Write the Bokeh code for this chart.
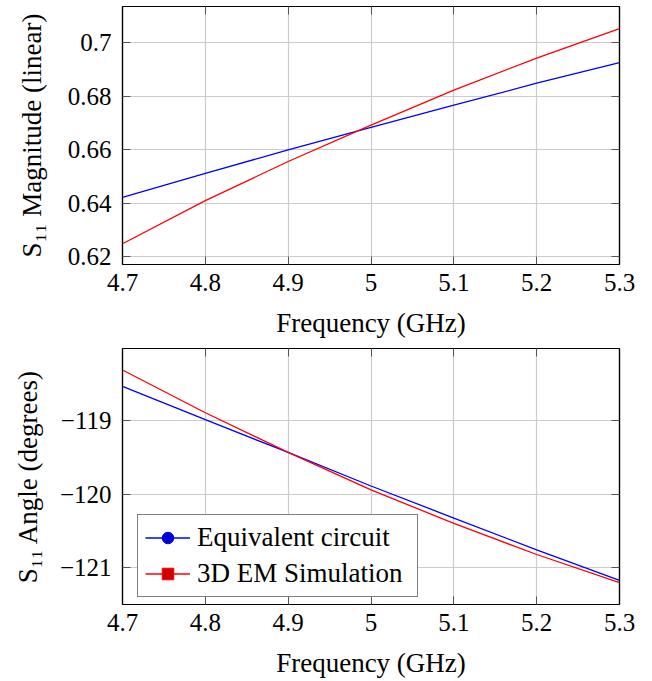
from bokeh.plotting import figure
from bokeh.models import (Range1d, FixedTicker, LinearAxis, Legend, LegendItem,
                          CustomJSTickFormatter)
from bokeh.layouts import column
from bokeh.embed import file_html
from bokeh.resources import INLINE

# ---------------- data ----------------
freq = [4.7, 4.8, 4.9, 5.0, 5.1, 5.2, 5.3]
mag_circuit = [0.6422, 0.6512, 0.6599, 0.6683, 0.6766, 0.6848, 0.6925]
mag_em = [0.6249, 0.6410, 0.6556, 0.6692, 0.6822, 0.6942, 0.7052]
ang_circuit = [-118.532, -118.986, -119.432, -119.888, -120.324, -120.757, -121.171]
ang_em = [-118.311, -118.892, -119.432, -119.942, -120.396, -120.820, -121.203]

x_ticks = [4.7, 4.8, 4.9, 5.0, 5.1, 5.2, 5.3]
x_tick_labels = ["4.7", "4.8", "4.9", "5", "5.1", "5.2", "5.3"]
mag_ticks = [0.62, 0.64, 0.66, 0.68, 0.70]
mag_tick_labels = ["0.62", "0.64", "0.66", "0.68", "0.7"]
ang_ticks = [-121, -120, -119]
ang_tick_labels = ["\u2212121", "\u2212120", "\u2212119"]

x_label = "Frequency (GHz)"
mag_label = "S\u2081\u2081 Magnitude (linear)"
ang_label = "S\u2081\u2081 Angle (degrees)"
series_names = ["Equivalent circuit", "3D EM Simulation"]

FONT = "Liberation Serif"
BLUE, RED = "#0000ff", "#ff0000"
BLUE_M, RED_M = "#0000cc", "#cc0000"

LABEL_CODE = """
const i = tvals.findIndex(t => Math.abs(t - tick) < 1e-6);
return i < 0 ? "" : tlabels[i];
"""


def style_axis(ax, ticks, labels, standoff=None):
    ax.ticker = FixedTicker(ticks=ticks)
    ax.minor_tick_line_color = None
    ax.major_tick_in = 8
    ax.major_tick_out = 0
    ax.major_tick_line_color = "#555555"
    ax.major_tick_line_width = 1
    ax.axis_line_color = "black"
    ax.axis_line_width = 1.2
    ax.major_label_text_font = FONT
    ax.major_label_text_color = "black"
    ax.major_label_text_font_size = "25px"
    if standoff is not None:
        ax.formatter = CustomJSTickFormatter(args=dict(tvals=list(ticks), tlabels=list(labels)),
                                             code=LABEL_CODE)
        ax.major_label_standoff = standoff
    else:
        ax.formatter = CustomJSTickFormatter(code="return '';")
        ax.major_label_standoff = 0


def make_fig(height, y0, y1, yticks, ylabels, ylab, top_border, bottom_border, ylab_standoff):
    p = figure(width=644, height=height, output_backend="svg", toolbar_location=None,
               x_range=Range1d(4.7, 5.3), y_range=Range1d(y0, y1),
               min_border_left=122, min_border_right=25,
               min_border_top=top_border, min_border_bottom=bottom_border)
    p.outline_line_color = "black"
    p.outline_line_width = 1.2
    style_axis(p.xaxis[0], x_ticks, x_tick_labels, standoff=9)
    style_axis(p.yaxis[0], yticks, ylabels, standoff=11)
    p.xaxis[0].axis_label = x_label
    p.yaxis[0].axis_label = ylab
    for ax in (p.xaxis[0], p.yaxis[0]):
        ax.axis_label_text_font = FONT
        ax.axis_label_text_font_style = "normal"
        ax.axis_label_text_font_size = "27px"
        ax.axis_label_text_color = "black"
    p.xaxis[0].axis_label_standoff = 14
    p.yaxis[0].axis_label_standoff = ylab_standoff
    top_ax = LinearAxis()
    style_axis(top_ax, x_ticks, x_tick_labels)
    right_ax = LinearAxis()
    style_axis(right_ax, yticks, ylabels)
    p.add_layout(top_ax, "above")
    p.add_layout(right_ax, "right")
    p.xgrid.ticker = FixedTicker(ticks=x_ticks)
    p.ygrid.ticker = FixedTicker(ticks=yticks)
    p.grid.grid_line_color = "#cccccc"
    p.grid.grid_line_width = 1.2
    return p


# ---------------- top: magnitude ----------------
p1 = make_fig(340, 0.61716, 0.71343, mag_ticks, mag_tick_labels, mag_label, 6, 76, 18)
p1.line(freq, mag_circuit, line_color=BLUE, line_width=1.3)
p1.line(freq, mag_em, line_color=RED, line_width=1.3)

# ---------------- bottom: angle ----------------
p2 = make_fig(340, -121.5, -118.018, ang_ticks, ang_tick_labels, ang_label, 8, 76, 14)
lb = p2.line(freq, ang_circuit, line_color=BLUE, line_width=1.3)
lr = p2.line(freq, ang_em, line_color=RED, line_width=1.3)
# markers only show in the legend (legend marker size comes from the legend box)
mb = p2.scatter(freq, ang_circuit, marker="circle", size=0, fill_color=BLUE_M, line_color=BLUE)
mr = p2.scatter(freq, ang_em, marker="square", size=0, fill_color=RED_M, line_color=RED)

legend = Legend(items=[LegendItem(label=series_names[0], renderers=[lb, mb]),
                       LegendItem(label=series_names[1], renderers=[lr, mr])],
                location=(15, 7))
legend.label_text_font = FONT
legend.label_text_font_size = "27px"
legend.label_text_color = "black"
legend.glyph_width = 45
legend.glyph_height = 29
legend.label_height = 29
legend.label_width = 213
legend.label_standoff = 7
legend.spacing = 5
legend.padding = 7
legend.border_line_color = "black"
legend.border_line_width = 1.2
legend.background_fill_alpha = 1.0
p2.add_layout(legend, "center")

layout = column(p1, p2)
open("out.html", "w").write(file_html(layout, INLINE))
